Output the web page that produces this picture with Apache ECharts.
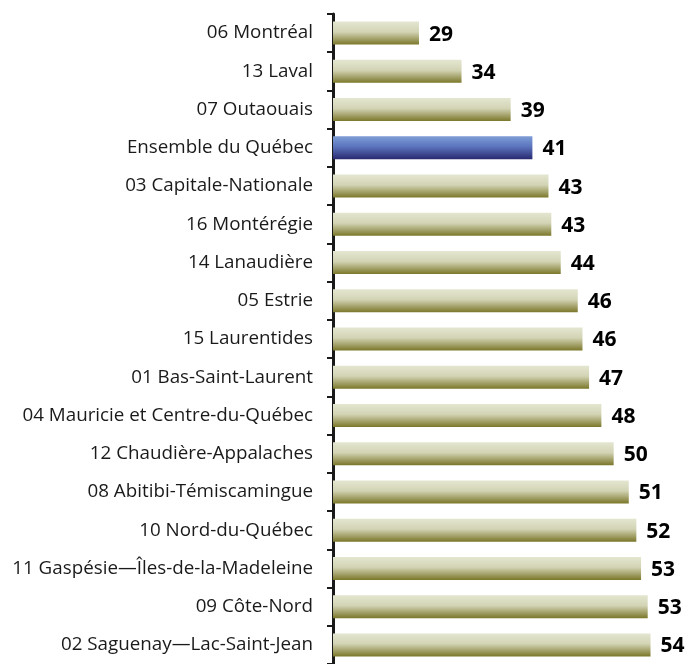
<!DOCTYPE html>
<html>
<head>
<meta charset="utf-8">
<script src="https://cdn.jsdelivr.net/npm/echarts@6/dist/echarts.min.js"></script>
<style>
  html, body { margin: 0; padding: 0; background: #fff; }
  #main { width: 688px; height: 664px; }
</style>
</head>
<body>
<div id="main"></div>
<script>
// regions, top to bottom
var regions = [
  "06 Montréal",
  "13 Laval",
  "07 Outaouais",
  "Ensemble du Québec",
  "03 Capitale-Nationale",
  "16 Montérégie",
  "14 Lanaudière",
  "05 Estrie",
  "15 Laurentides",
  "01 Bas-Saint-Laurent",
  "04 Mauricie et Centre-du-Québec",
  "12 Chaudière-Appalaches",
  "08 Abitibi-Témiscamingue",
  "10 Nord-du-Québec",
  "11 Gaspésie—Îles-de-la-Madeleine",
  "09 Côte-Nord",
  "02 Saguenay—Lac-Saint-Jean"
];
var values = [29.1, 33.6, 38.8, 41.1, 42.8, 43.1, 44.1, 45.9, 46.4, 47.1, 48.4, 49.7, 51.3, 52.1, 52.6, 53.3, 53.6];
var highlightName = "Ensemble du Québec";

var chart = echarts.init(document.getElementById("main"));

var olive = new echarts.graphic.LinearGradient(0, 0, 0, 1, [
  { offset: 0, color: "#e4e6d0" },
  { offset: 0.45, color: "#d3d4b5" },
  { offset: 1, color: "#7b772a" }
]);
var blue = new echarts.graphic.LinearGradient(0, 0, 0, 1, [
  { offset: 0, color: "#7e9dd6" },
  { offset: 0.45, color: "#5b74bd" },
  { offset: 1, color: "#28286f" }
]);

var seriesData = values.map(function (v, i) {
  return {
    value: v,
    itemStyle: { color: regions[i] === highlightName ? blue : olive }
  };
});

var option = {
  animation: false,
  grid: { left: 333, top: 14, right: 5.35, height: 656.5 },
  xAxis: {
    type: "value",
    min: 20,
    max: 57,
    show: false
  },
  yAxis: {
    type: "category",
    inverse: true,
    data: regions,
    axisLine: { lineStyle: { color: "#1a1a1a", width: 3 } },
    axisTick: { show: true, length: 6, lineStyle: { color: "#1a1a1a", width: 2 } },
    axisLabel: {
      margin: 20,
      fontFamily: "Open Sans",
      fontSize: 18.8,
      color: "#1a1a1a"
    }
  },
  series: [
    {
      type: "bar",
      barWidth: 23,
      data: seriesData,
      label: {
        show: true,
        position: "right",
        distance: 10,
        offset: [0, 1.5],
        fontFamily: "Open Sans",
        fontWeight: "bold",
        fontSize: 21,
        color: "#000",
        formatter: function (p) { return Math.round(p.value); }
      }
    }
  ]
};

chart.setOption(option);
</script>
</body>
</html>
